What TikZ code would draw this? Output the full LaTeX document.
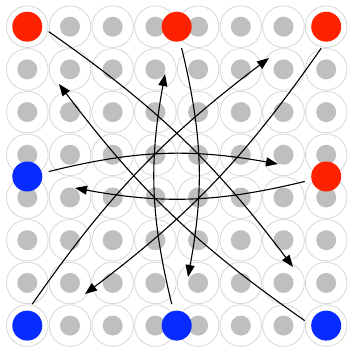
\documentclass[tikz,border=0pt]{standalone}
\usetikzlibrary{arrows.meta}
\definecolor{cellring}{RGB}{214,214,214}
\definecolor{celldot}{RGB}{191,191,191}
\definecolor{redpt}{RGB}{255,34,0}
\definecolor{bluept}{RGB}{8,44,255}
\tikzset{
  ring/.style={circle,draw=cellring,line width=0.8pt,minimum size=41.6pt,inner sep=0pt},
  dot/.style={circle,fill=celldot,minimum size=20pt,inner sep=0pt},
  redn/.style={circle,fill=redpt,minimum size=30pt,inner sep=0pt,outer sep=7pt},
  bluen/.style={circle,fill=bluept,minimum size=30pt,inner sep=0pt,outer sep=7pt},
  conn/.style={line width=1.1pt,-{Triangle[length=12pt,width=9pt]}},
  diag/.style={conn,bend left=9},
  orth/.style={conn,bend left=12}
}
\begin{document}
\begin{tikzpicture}[x=1pt,y=1pt]
\useasboundingbox (0,0) rectangle (348,350);
\foreach \i in {0,...,7}{
  \foreach \j in {0,...,7}{
    \node[ring] (r\i\j) at ({27.3+42.7*\i},{323.3-42.7*\j}) {};
    \node[dot] (d\i\j) at ({27.3+42.7*\i},{323.3-42.7*\j}) {};
  }
}
\node[redn] (R1) at (27.3,323.3) {};
\node[redn] (R2) at (176.7,323.3) {};
\node[redn] (R3) at (326.2,323.3) {};
\node[bluen] (B1) at (27.3,173.5) {};
\node[redn] (R4) at (326.2,173.5) {};
\node[bluen] (B2) at (27.3,24.4) {};
\node[bluen] (B3) at (176.7,24.4) {};
\node[bluen] (B4) at (326.2,24.4) {};
\coordinate (tR1) at (293,83);
\coordinate (tR2) at (188,73);
\coordinate (tR3) at (85,56);
\coordinate (tB1) at (278,186);
\coordinate (tR4) at (75,162);
\coordinate (tB2) at (269,292);
\coordinate (tB3) at (165,276);
\coordinate (tB4) at (59,266);
\draw[diag] (R1.-13) to (tR1);
\draw[orth] (R2.-77) to (tR2);
\draw[diag] (R3.-103) to (tR3);
\draw[orth] (B1.13) to (tB1);
\draw[orth] (R4.193) to (tR4);
\draw[diag] (B2.77) to (tB2);
\draw[orth] (B3.103) to (tB3);
\draw[diag] (B4.167) to (tB4);
\end{tikzpicture}
\end{document}
